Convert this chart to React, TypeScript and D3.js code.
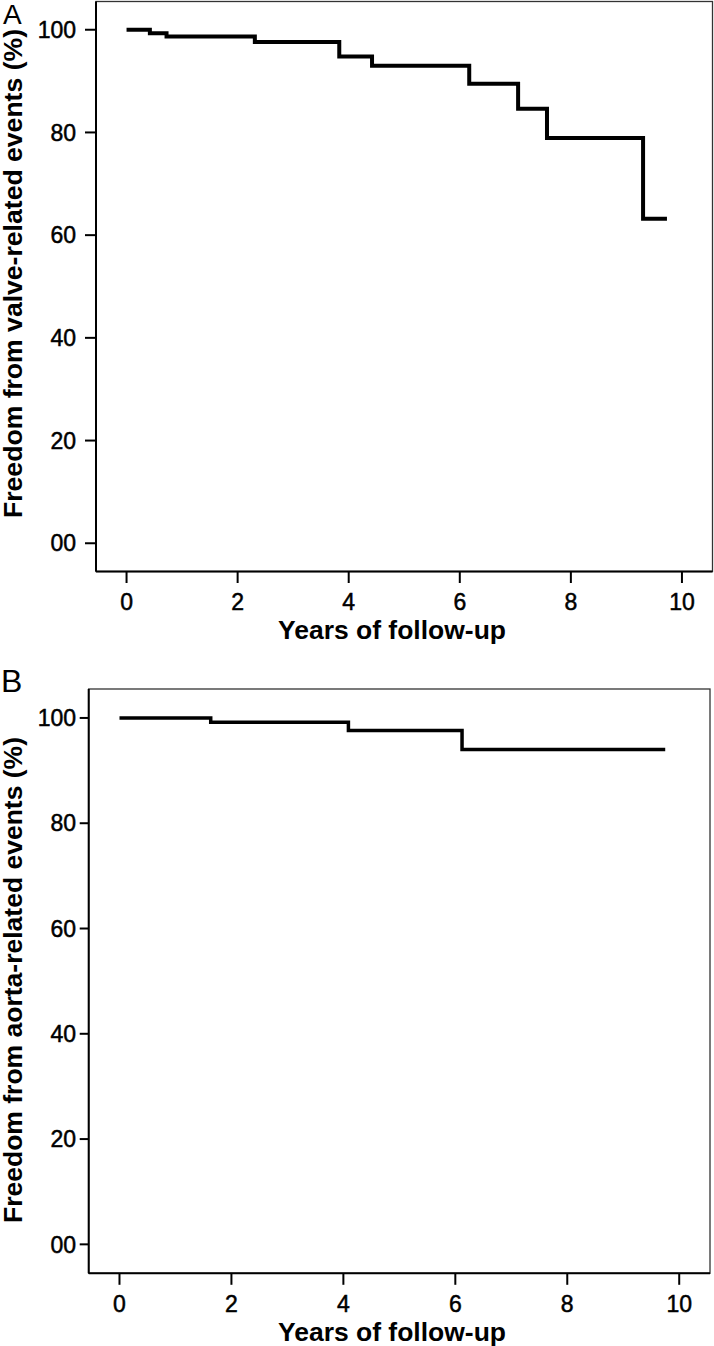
import React from "react";
import * as d3 from "d3";

// Panel A: freedom from valve-related events
const valveTimes = [0, 0.42, 0.72, 2.31, 3.83, 4.42, 6.17, 7.05, 7.57, 9.3];
const valveSurvival = [100, 99.3, 98.7, 97.6, 94.8, 93.0, 89.5, 84.6, 78.9, 63.2];
const valveLastFollowUp = 9.73;

// Panel B: freedom from aorta-related events
const aortaTimes = [0, 1.63, 4.09, 6.12];
const aortaSurvival = [100, 99.2, 97.6, 94.0];
const aortaLastFollowUp = 9.75;

const xTicks = [0, 2, 4, 6, 8, 10];
const xTickLabels = ["0", "2", "4", "6", "8", "10"];
const yTicks = [0, 20, 40, 60, 80, 100];
const yTickLabels = ["00", "20", "40", "60", "80", "100"];

const FONT = "'Liberation Sans', Arial, Helvetica, sans-serif";

type PanelProps = {
  label: string;
  labelX: number;
  labelY: number;
  labelSize: number;
  left: number;
  right: number;
  top: number;
  bottom: number;
  times: number[];
  values: number[];
  end: number;
  yTitle: string;
  yTitleX: number;
  yTitleBottom: number;
  yTitleSize: number;
  yTitleLength: number;
  yTickLen: number;
  lineWidth: number;
};

function Panel(p: PanelProps) {
  const x = d3.scaleLinear().domain([-0.55, 10.55]).range([p.left, p.right]);
  const y = d3.scaleLinear().domain([-5.5, 105.5]).range([p.bottom, p.top]);
  const pts: [number, number][] = p.times.map((t, i) => [t, p.values[i]]);
  pts.push([p.end, p.values[p.values.length - 1]]);
  const line = d3
    .line<[number, number]>()
    .x((d) => x(d[0]))
    .y((d) => y(d[1]))
    .curve(d3.curveStepAfter);
  return (
    <g>
      <text x={p.labelX} y={p.labelY} fontFamily={FONT} fontSize={p.labelSize} fill="#000">
        {p.label}
      </text>
      {/* frame */}
      <rect
        x={p.left}
        y={p.top}
        width={p.right - p.left}
        height={p.bottom - p.top}
        fill="none"
        stroke="#333"
        strokeWidth={1.3}
      />
      <line x1={p.left} x2={p.left} y1={p.top} y2={p.bottom} stroke="#000" strokeWidth={2} />
      <line x1={p.left} x2={p.right} y1={p.bottom} y2={p.bottom} stroke="#000" strokeWidth={2} />
      {/* y ticks */}
      {yTicks.map((v, i) => (
        <g key={"y" + v}>
          <line x1={p.left - p.yTickLen} x2={p.left} y1={y(v)} y2={y(v)} stroke="#000" strokeWidth={2} />
          <text
            x={76}
            y={y(v) + 8.2}
            textAnchor="end"
            fontFamily={FONT}
            fontSize={23}
            fill="#000"
            stroke="#000"
            strokeWidth={0.5}
          >
            {yTickLabels[i]}
          </text>
        </g>
      ))}
      {/* x ticks */}
      {xTicks.map((t, i) => (
        <g key={"x" + t}>
          <line x1={x(t)} x2={x(t)} y1={p.bottom} y2={p.bottom + 11.5} stroke="#000" strokeWidth={2} />
          <text
            x={x(t)}
            y={p.bottom + 38.5}
            textAnchor="middle"
            fontFamily={FONT}
            fontSize={23}
            fill="#000"
            stroke="#000"
            strokeWidth={0.5}
          >
            {xTickLabels[i]}
          </text>
        </g>
      ))}
      <text
        x={278}
        y={p.bottom + 67.5}
        textAnchor="start"
        fontFamily={FONT}
        fontWeight="bold"
        fontSize={25}
        textLength={228}
        lengthAdjust="spacingAndGlyphs"
        fill="#000"
      >
        Years of follow-up
      </text>
      <text
        transform={`translate(${p.yTitleX},${p.yTitleBottom}) rotate(-90)`}
        textAnchor="start"
        fontFamily={FONT}
        fontWeight="bold"
        fontSize={p.yTitleSize}
        textLength={p.yTitleLength}
        lengthAdjust="spacingAndGlyphs"
        fill="#000"
      >
        {p.yTitle}
      </text>
      <path d={line(pts) || ""} fill="none" stroke="#000" strokeWidth={p.lineWidth} strokeLinejoin="miter" />
    </g>
  );
}

export default function App() {
  return (
    <svg
      width={714}
      height={1346}
      style={{ position: "absolute", left: 0, top: 0, background: "#fff" }}
    >
      <rect x={0} y={0} width={714} height={1346} fill="#fff" />
      <Panel
        label="A"
        labelX={3}
        labelY={23.5}
        labelSize={28}
        left={96}
        right={712.5}
        top={1.5}
        bottom={571.5}
        times={valveTimes}
        values={valveSurvival}
        end={valveLastFollowUp}
        yTitle="Freedom from valve-related events (%)"
        yTitleX={21.5}
        yTitleBottom={518}
        yTitleSize={25}
        yTitleLength={489}
        yTickLen={11}
        lineWidth={4}
      />
      <Panel
        label="B"
        labelX={1}
        labelY={692}
        labelSize={32}
        left={88.7}
        right={710}
        top={689}
        bottom={1273.3}
        times={aortaTimes}
        values={aortaSurvival}
        end={aortaLastFollowUp}
        yTitle="Freedom from aorta-related events (%)"
        yTitleX={21.5}
        yTitleBottom={1223}
        yTitleSize={25}
        yTitleLength={486}
        yTickLen={9}
        lineWidth={3.5}
      />
    </svg>
  );
}
